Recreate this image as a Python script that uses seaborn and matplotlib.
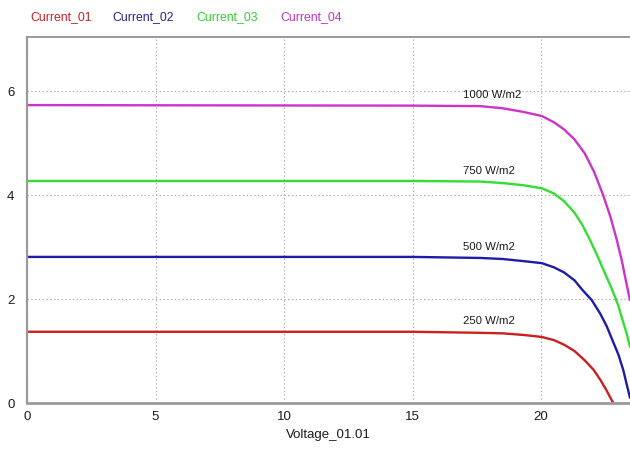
import matplotlib
matplotlib.use("Agg")
import matplotlib.pyplot as plt
import seaborn as sns
import pandas as pd

# ---- data ----
series_names = ["Current_01", "Current_02", "Current_03", "Current_04"]
irradiance_labels = ["250 W/m2", "500 W/m2", "750 W/m2", "1000 W/m2"]

v_01 = [0, 15.0, 17.63, 18.5, 19.3, 20.03, 20.5, 20.9, 21.3, 21.7, 22.04, 22.3, 22.55, 22.7, 22.81]
i_01 = [1.37, 1.37, 1.35, 1.34, 1.31, 1.27, 1.21, 1.12, 1.00, 0.82, 0.64, 0.45, 0.24, 0.10, 0.0]

v_02 = [0, 15.0, 17.63, 18.5, 19.3, 20.03, 20.5, 20.9, 21.3, 21.6, 21.97, 22.3, 22.56, 22.8, 23.01, 23.2, 23.35, 23.46]
i_02 = [2.81, 2.81, 2.79, 2.77, 2.73, 2.69, 2.61, 2.51, 2.36, 2.18, 1.98, 1.72, 1.47, 1.18, 0.93, 0.63, 0.32, 0.10]

v_03 = [0, 15.0, 17.63, 18.5, 19.3, 20.03, 20.5, 20.9, 21.3, 21.6, 21.91, 22.2, 22.49, 22.75, 23.0, 23.2, 23.35, 23.46]
i_03 = [4.27, 4.27, 4.26, 4.23, 4.19, 4.13, 4.03, 3.88, 3.66, 3.43, 3.13, 2.82, 2.49, 2.20, 1.88, 1.55, 1.30, 1.08]

v_04 = [0, 15.0, 17.63, 18.5, 19.3, 20.03, 20.5, 20.9, 21.3, 21.7, 22.06, 22.4, 22.7, 22.95, 23.15, 23.3, 23.46]
i_04 = [5.73, 5.72, 5.71, 5.67, 5.60, 5.52, 5.40, 5.26, 5.07, 4.80, 4.45, 4.02, 3.58, 3.13, 2.72, 2.35, 1.98]

x_ticks = [0, 5, 10, 15, 20]
y_ticks = [0, 2, 4, 6]
x_label = "Voltage_01.01"

# ---- styling ----
colors = ["#cc1f1f", "#1c1ca8", "#33dd33", "#cc33cc"]
label_colors = ["#c42020", "#22228c", "#33cc33", "#c030c0"]

sns.set_theme(style="white")
plt.rcParams["font.family"] = ["Liberation Sans Narrow", "Liberation Sans", "DejaVu Sans"]

frames = []
for name, v, i in zip(series_names, [v_01, v_02, v_03, v_04], [i_01, i_02, i_03, i_04]):
    frames.append(pd.DataFrame({"Voltage": v, "Current": i, "series": name}))
df = pd.concat(frames, ignore_index=True)

W, H = 630, 449
fig = plt.figure(figsize=(W / 100, H / 100), dpi=100)
fig.patch.set_facecolor("white")
ax = fig.add_axes([27 / W, (H - 403) / H, (W - 27) / W, (403 - 37) / H])

sns.lineplot(data=df, x="Voltage", y="Current", hue="series", palette=colors,
             sort=False, estimator=None, linewidth=1.7, legend=False, ax=ax)

ax.set_xlim(0, 23.46)
ax.set_ylim(0, 7.04)
ax.set_xticks(x_ticks)
ax.set_yticks(y_ticks)
ax.set_xticklabels([str(t) for t in x_ticks])
ax.set_yticklabels([str(t) for t in y_ticks])
ax.tick_params(axis="both", length=0, labelsize=9.5, labelcolor="#1a1a1a")
ax.tick_params(axis="x", pad=6)
ax.tick_params(axis="y", pad=9)
ax.set_xlabel(x_label, fontsize=9.5, color="#1a1a1a", labelpad=4)
ax.set_ylabel("")

ax.grid(True, color="#a8a8a8", linestyle=(0, (1.2, 2.2)), linewidth=0.8)
for side in ["left", "bottom", "top"]:
    ax.spines[side].set_color("#9a9a9a")
ax.spines["left"].set_linewidth(1.6)
ax.spines["bottom"].set_linewidth(2.0)
ax.spines["top"].set_linewidth(1.4)
ax.spines["right"].set_visible(False)

# curve annotations
levels = [i_01[0], i_02[0], i_03[0], i_04[0]]
for lab, lvl in zip(irradiance_labels, levels):
    ax.text(16.95, lvl + 0.2, lab, fontsize=8.2, color="#1a1a1a", va="center", ha="left")

# top legend as coloured text
legend_x = [30, 112, 196, 280]
for name, c, x in zip(series_names, label_colors, legend_x):
    fig.text(x / W, 1 - 17 / H, name, color=c, fontsize=8.8, va="center", ha="left")

fig.savefig("out.png", dpi=100, facecolor="white")
